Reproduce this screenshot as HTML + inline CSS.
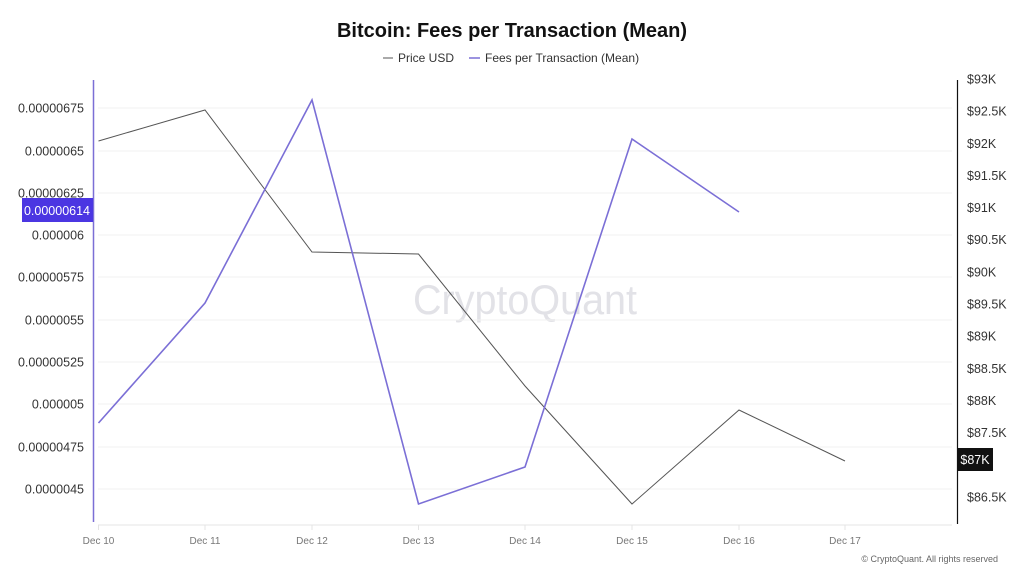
<!DOCTYPE html>
<html>
<head>
<meta charset="utf-8">
<style>
  html,body{margin:0;padding:0;background:#fff;}
  svg{display:block;}
  text{font-family:"Liberation Sans",sans-serif;}
</style>
</head>
<body>
<svg width="1024" height="576" viewBox="0 0 1024 576" xmlns="http://www.w3.org/2000/svg">
  <rect width="1024" height="576" fill="#fff"/>
  <!-- Title -->
  <text x="512" y="37" text-anchor="middle" font-size="20" font-weight="bold" fill="#111">Bitcoin: Fees per Transaction (Mean)</text>
  <!-- Legend -->
  <line x1="383" y1="58" x2="393" y2="58" stroke="#555" stroke-width="1"/>
  <text x="398" y="62" font-size="12" fill="#333">Price USD</text>
  <line x1="469" y1="58" x2="480" y2="58" stroke="#7b6fd6" stroke-width="1.5"/>
  <text x="485" y="62" font-size="12" fill="#333">Fees per Transaction (Mean)</text>

  <!-- Watermark -->
  <text x="525" y="314" text-anchor="middle" font-size="42" fill="#e2e2e7" textLength="224" lengthAdjust="spacingAndGlyphs">CryptoQuant</text>

  <!-- Gridlines -->
  <g stroke="#f1f1f1" stroke-width="1">
    <line x1="98" y1="108" x2="952" y2="108"/>
    <line x1="98" y1="151" x2="952" y2="151"/>
    <line x1="98" y1="193" x2="952" y2="193"/>
    <line x1="98" y1="235" x2="952" y2="235"/>
    <line x1="98" y1="277" x2="952" y2="277"/>
    <line x1="98" y1="320" x2="952" y2="320"/>
    <line x1="98" y1="362" x2="952" y2="362"/>
    <line x1="98" y1="404" x2="952" y2="404"/>
    <line x1="98" y1="447" x2="952" y2="447"/>
    <line x1="98" y1="489" x2="952" y2="489"/>
  </g>
  <!-- X axis -->
  <line x1="98" y1="525" x2="952" y2="525" stroke="#e4e4e4" stroke-width="1"/>
  <g stroke="#e4e4e4" stroke-width="1">
    <line x1="98.5" y1="525" x2="98.5" y2="530"/>
    <line x1="205" y1="525" x2="205" y2="530"/>
    <line x1="312" y1="525" x2="312" y2="530"/>
    <line x1="418.5" y1="525" x2="418.5" y2="530"/>
    <line x1="525" y1="525" x2="525" y2="530"/>
    <line x1="632" y1="525" x2="632" y2="530"/>
    <line x1="739" y1="525" x2="739" y2="530"/>
    <line x1="845" y1="525" x2="845" y2="530"/>
  </g>
  <g font-size="10" fill="#777" text-anchor="middle">
    <text x="98.5" y="544">Dec 10</text>
    <text x="205" y="544">Dec 11</text>
    <text x="312" y="544">Dec 12</text>
    <text x="418.5" y="544">Dec 13</text>
    <text x="525" y="544">Dec 14</text>
    <text x="632" y="544">Dec 15</text>
    <text x="739" y="544">Dec 16</text>
    <text x="845" y="544">Dec 17</text>
  </g>

  <!-- Left axis -->
  <line x1="93.5" y1="80" x2="93.5" y2="522" stroke="#7b6fd6" stroke-width="1.5"/>
  <g font-size="12.5" fill="#333" text-anchor="end">
    <text x="84" y="112.5">0.00000675</text>
    <text x="84" y="155.5">0.0000065</text>
    <text x="84" y="197.5">0.00000625</text>
    <text x="84" y="239.5">0.000006</text>
    <text x="84" y="281.5">0.00000575</text>
    <text x="84" y="324.5">0.0000055</text>
    <text x="84" y="366.5">0.00000525</text>
    <text x="84" y="408.5">0.000005</text>
    <text x="84" y="451.5">0.00000475</text>
    <text x="84" y="493.5">0.0000045</text>
  </g>
  <rect x="22" y="198" width="71" height="24" fill="#4b36e2"/>
  <text x="57" y="215" text-anchor="middle" font-size="12.5" fill="#fff">0.00000614</text>

  <!-- Right axis -->
  <line x1="957.5" y1="80" x2="957.5" y2="524" stroke="#111" stroke-width="1.2"/>
  <g font-size="12.5" fill="#333">
    <text x="967" y="83.5">$93K</text>
    <text x="967" y="115.6">$92.5K</text>
    <text x="967" y="147.8">$92K</text>
    <text x="967" y="179.9">$91.5K</text>
    <text x="967" y="212.1">$91K</text>
    <text x="967" y="244.2">$90.5K</text>
    <text x="967" y="276.4">$90K</text>
    <text x="967" y="308.5">$89.5K</text>
    <text x="967" y="340.7">$89K</text>
    <text x="967" y="372.8">$88.5K</text>
    <text x="967" y="405">$88K</text>
    <text x="967" y="437.1">$87.5K</text>
    <text x="967" y="501.4">$86.5K</text>
  </g>
  <rect x="957" y="448" width="36" height="23" fill="#111"/>
  <text x="975" y="464" text-anchor="middle" font-size="12.5" fill="#fff">$87K</text>

  <!-- Price series -->
  <polyline fill="none" stroke="#555" stroke-width="1"
    points="98.5,141 205,110 312,252 418.5,254 525,386 632,504 739,410 845,461"/>
  <!-- Fees series -->
  <polyline fill="none" stroke="#7b6fd6" stroke-width="1.6"
    points="98.5,423 205,303 312,100 418.5,504 525,467 632,139 739,212"/>

  <!-- Copyright -->
  <text x="998" y="562" text-anchor="end" font-size="9" fill="#666">© CryptoQuant. All rights reserved</text>
</svg>
</body>
</html>
